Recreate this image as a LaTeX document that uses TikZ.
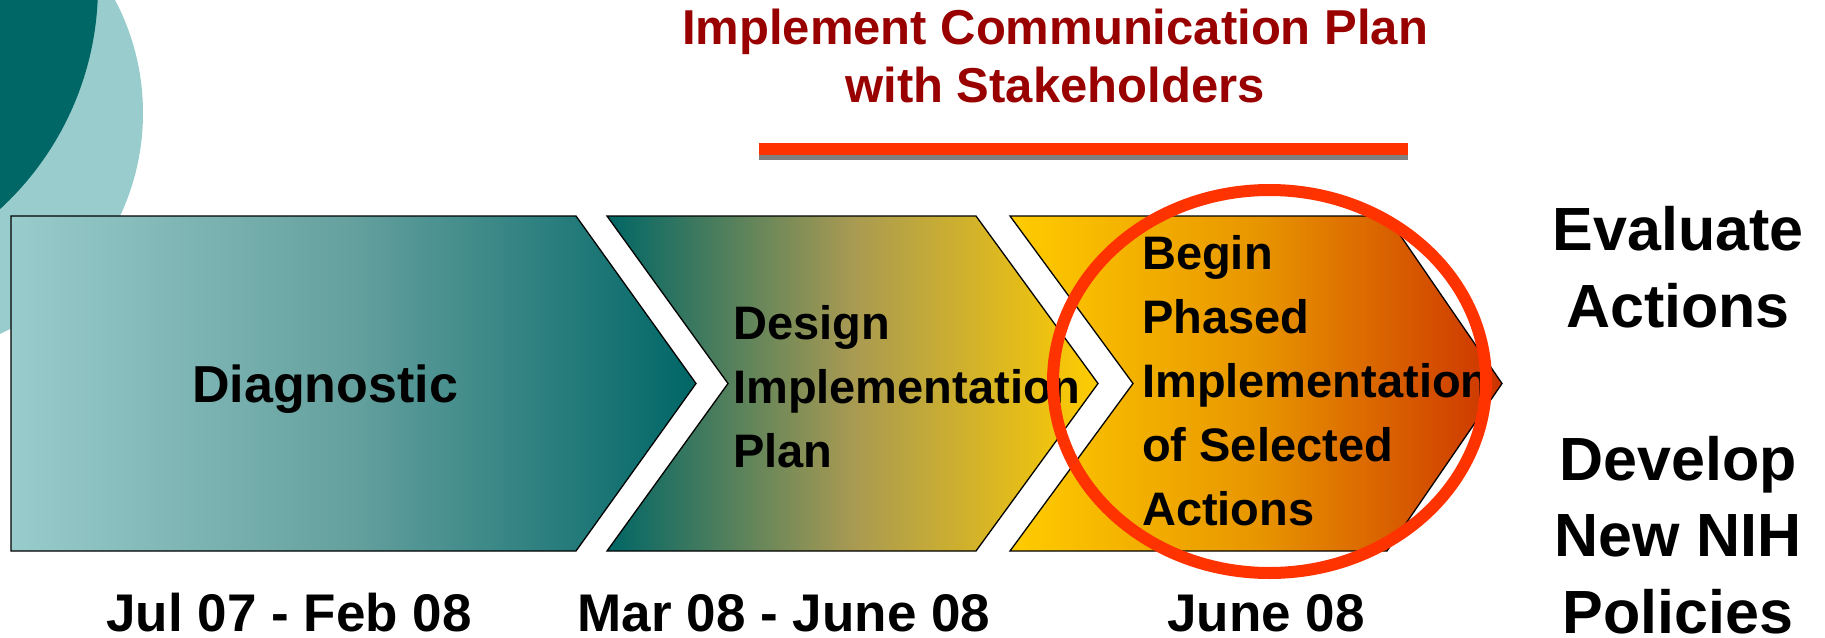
\documentclass[tikz,border=0pt]{standalone}
\usepackage{fontspec}
\setmainfont{Liberation Sans}
\usepackage{tikz}

\definecolor{tealdark}{HTML}{006666}
\definecolor{teallight}{HTML}{99CCCC}
\definecolor{tealmid}{HTML}{64A09E}
\definecolor{olive}{HTML}{A89A52}
\definecolor{gold}{HTML}{FFCC00}
\definecolor{amber}{HTML}{E89600}
\definecolor{rust}{HTML}{CC3300}
\definecolor{ringred}{HTML}{FF3300}
\definecolor{titlered}{HTML}{990000}

\begin{document}
\begin{tikzpicture}[x=1pt,y=-1pt,
  chevron/.style={draw=black,line width=1.3pt,line join=miter},
  phase text/.style={font=\bfseries\fontsize{47}{64}\selectfont,anchor=base west,align=left,inner sep=0pt},
  date text/.style={font=\bfseries\fontsize{53}{60}\selectfont,anchor=base,inner sep=0pt},
  side text/.style={font=\bfseries\fontsize{61}{76.5}\selectfont,anchor=base,align=center,inner sep=0pt}]

  \useasboundingbox (0,0) rectangle (1825,637);
  \clip (0,0) rectangle (1825,637);

  % circles in the corner
  \fill[teallight] (-99,113) circle (242);
  \fill[tealdark] (-205,-14) circle (303);

  % the three phases (middle color goes last)
  \draw[chevron,left color=teallight,right color=tealdark,middle color=tealmid]
    (11,216) -- (576,216) -- (696,383.5) -- (576,551) -- (11,551) -- cycle;
  \draw[chevron,left color=tealdark,right color=gold,middle color=olive]
    (607,216) -- (976,216) -- (1098,383.5) -- (976,551) -- (607,551) -- (728,383.5) -- cycle;
  \draw[chevron,left color=gold,right color=rust,middle color=amber]
    (1010,216) -- (1387,216) -- (1502,383.5) -- (1387,551) -- (1010,551) -- (1133,383.5) -- cycle;

  % base anchor of a multi-line node sits on its last line
  \node[phase text,anchor=base,font=\bfseries\fontsize{52}{60}\selectfont] (diag) at (325,402) {Diagnostic};
  \node[phase text] (design) at (733,467) {Design\\Implementation\\Plan};
  \node[phase text] (begin) at (1142,525) {Begin\\Phased\\Implementation\\of Selected\\Actions};

  % title and bar
  \node[anchor=base,align=center,inner sep=0pt,text=titlered,
    font=\bfseries\fontsize{49}{58}\selectfont] (title) at (1055,102)
    {Implement Communication Plan\\with Stakeholders};
  \fill[gray] (759,148) rectangle (1408,160);
  \fill[ringred] (759,143) rectangle (1408,155);

  % dates
  \node[date text] (d1) at (289,631) {Jul 07 - Feb 08};
  \node[date text] (d2) at (784,631) {Mar 08 - June 08};
  \node[date text] (d3) at (1266,631) {June 08};

  \node[side text] (next) at (1678,633)
    {Evaluate\\Actions\\[76.5pt]Develop\\New NIH\\Policies};

  % highlight
  \draw[ringred,line width=12pt] (1269.5,381.5) ellipse (216.5 and 191.5);
\end{tikzpicture}
\end{document}
